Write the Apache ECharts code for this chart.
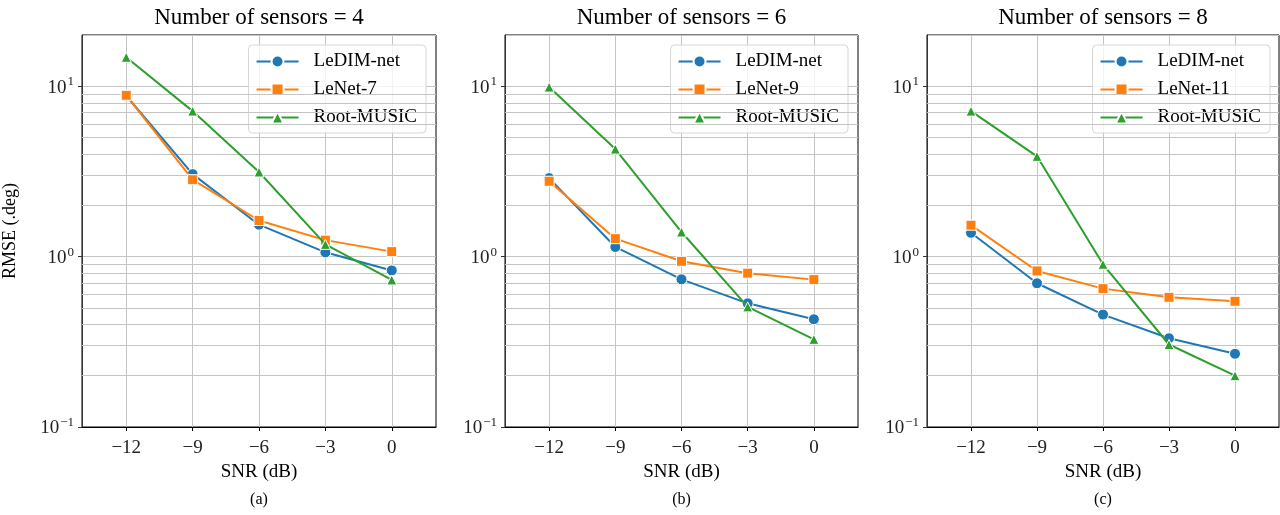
<!DOCTYPE html>
<html>
<head>
<meta charset="utf-8">
<script src="https://cdn.jsdelivr.net/npm/echarts@6/dist/echarts.min.js"></script>
<style>
  html, body { margin: 0; padding: 0; background: #fff; }
  #chart { width: 1280px; height: 515px; }
</style>
</head>
<body>
<div id="chart"></div>
<script>
// SNR values (dB)
const snr = [-12, -9, -6, -3, 0];
const xTicks = [-12, -9, -6, -3, 0];

// 4 sensors
const ledim4 = [8.8, 3.05, 1.54, 1.06, 0.83];
const lenet7 = [8.85, 2.83, 1.63, 1.25, 1.07];
const music4 = [14.8, 7.15, 3.14, 1.18, 0.73];

// 6 sensors
const ledim6 = [2.89, 1.14, 0.736, 0.532, 0.429];
const lenet9 = [2.77, 1.275, 0.939, 0.80, 0.733];
const music6 = [9.89, 4.28, 1.395, 0.507, 0.327];

// 8 sensors
const ledim8 = [1.38, 0.698, 0.457, 0.332, 0.269];
const lenet11 = [1.53, 0.824, 0.649, 0.577, 0.547];
const music8 = [7.15, 3.88, 0.902, 0.305, 0.200];

const titles = ['Number of sensors = 4', 'Number of sensors = 6', 'Number of sensors = 8'];
const captions = ['(a)', '(b)', '(c)'];
const lenetNames = ['LeNet-7', 'LeNet-9', 'LeNet-11'];
const minorGrid = [0.2, 0.3, 0.4, 0.5, 0.6, 0.7, 0.8, 0.9, 2, 3, 4, 5, 6, 7, 8, 9];

const panels = [
  [ledim4, lenet7, music4],
  [ledim6, lenet9, music6],
  [ledim8, lenet11, music8]
];

const FONT = 'Liberation Serif';
const gridBoxes = [
  {left: 82, width: 354},
  {left: 505, width: 353},
  {left: 927, width: 352}
];
const legendRight = [854, 432, 10];
const colors = ['#1f77b4', '#ff7f0e', '#2ca02c'];
const symbols = ['circle', 'rect', 'triangle'];
const symbolSizes = [11, 10, 10];

const chart = echarts.init(document.getElementById('chart'));

function pair(vals) {
  return snr.map((x, i) => [x, vals[i]]);
}

function minus(v) {
  return v < 0 ? '\u2212' + (-v) : String(v);
}

const grid = [], xAxis = [], yAxis = [], series = [], legend = [], title = [];

gridBoxes.forEach((g, p) => {
  grid.push({left: g.left, width: g.width, top: 35, height: 392, show: true,
    borderColor: '#000', borderWidth: 1, backgroundColor: 'transparent'});

  xAxis.push({
    type: 'value', gridIndex: p, min: -14, max: 2,
    name: 'SNR (dB)', nameLocation: 'middle', nameGap: 34,
    nameTextStyle: {fontFamily: FONT, fontSize: 19, color: '#000'},
    axisLine: {show: true, onZero: false, lineStyle: {color: '#000', width: 1}},
    axisTick: {show: true, inside: false, length: 4, customValues: xTicks, lineStyle: {color: '#000'}},
    axisLabel: {customValues: xTicks, margin: 12, fontFamily: FONT, fontSize: 19, color: '#222', formatter: minus},
    splitLine: {show: true, lineStyle: {color: '#c4c4c4', width: 1}}
  });

  yAxis.push({
    type: 'log', logBase: 10, gridIndex: p, min: 0.1, max: 20,
    name: p === 0 ? 'RMSE (.deg)' : '', nameLocation: 'middle', nameGap: 63, nameRotate: 90,
    nameTextStyle: {fontFamily: FONT, fontSize: 18, color: '#000'},
    axisLine: {show: true, onZero: false, lineStyle: {color: '#333', width: 1}},
    axisTick: {show: true, inside: false, length: 4, lineStyle: {color: '#333'}},
    minorTick: {show: false},
    axisLabel: {
      margin: 8, showMaxLabel: false,
      formatter: function (v) {
        const e = Math.round(Math.log10(v));
        if (Math.abs(Math.pow(10, e) - v) > 1e-9 * Math.max(1, v)) return '';
        return '{b|10}{s|' + minus(e) + '}';
      },
      rich: {
        b: {fontFamily: FONT, fontSize: 19, color: '#222', lineHeight: 22, verticalAlign: 'bottom'},
        s: {fontFamily: FONT, fontSize: 13, color: '#222', lineHeight: 22, verticalAlign: 'top', padding: [0, 0, 0, 1]}
      }
    },
    splitLine: {show: true, lineStyle: {color: '#c4c4c4', width: 1}}
  });

  // minor log gridlines
  series.push({
    type: 'line', name: 'minor' + p, xAxisIndex: p, yAxisIndex: p, data: [], z: 0, silent: true,
    markLine: {
      silent: true, symbol: 'none', label: {show: false}, animation: false,
      lineStyle: {color: '#c4c4c4', type: 'solid', width: 1},
      data: minorGrid.map(v => ({yAxis: v}))
    }
  });

  const names = ['LeDIM-net', lenetNames[p], 'Root-MUSIC'];
  panels[p].forEach((vals, k) => {
    series.push({
      type: 'line', name: names[k], xAxisIndex: p, yAxisIndex: p,
      data: pair(vals), symbol: symbols[k], symbolSize: symbolSizes[k],
      showAllSymbol: true, animation: false, z: 5 + k,
      lineStyle: {color: colors[k], width: 2},
      itemStyle: {color: colors[k], borderColor: '#fff', borderWidth: 1}
    });
  });

  legend.push({
    data: names, orient: 'vertical', right: legendRight[p], top: 45,
    itemWidth: 42, itemHeight: 15, itemGap: 7, padding: [6, 9, 5, 7],
    backgroundColor: 'rgba(255,255,255,0.8)', borderColor: '#d6d6d6', borderWidth: 1, borderRadius: 4,
    textStyle: {fontFamily: FONT, fontSize: 19, color: '#000', padding: [0, 0, 0, 10], lineHeight: 21},
    selectedMode: false
  });

  const cx = g.left + g.width / 2;
  title.push({text: titles[p], left: cx, top: 6, textAlign: 'center', padding: 0,
    textStyle: {fontFamily: FONT, fontSize: 23, fontWeight: 'normal', color: '#000'}});
  title.push({text: captions[p], left: cx, top: 492, textAlign: 'center', padding: 0,
    textStyle: {fontFamily: FONT, fontSize: 16, fontWeight: 'normal', color: '#000'}});
});

chart.setOption({
  animation: false,
  title: title,
  grid: grid,
  xAxis: xAxis,
  yAxis: yAxis,
  legend: legend,
  series: series
});
</script>
</body>
</html>
